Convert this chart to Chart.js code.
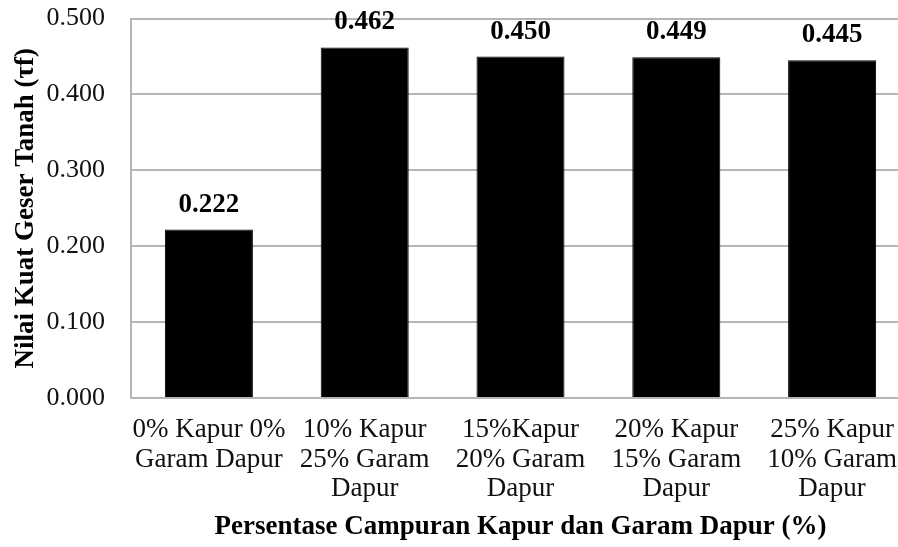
<!DOCTYPE html>
<html>
<head>
<meta charset="utf-8">
<script src="https://cdn.jsdelivr.net/npm/chart.js@4.4.1/dist/chart.umd.min.js"></script>
<style>
  html, body { margin: 0; padding: 0; background: #fff; overflow: hidden; }
  #wrap { width: 915px; height: 547px; }
</style>
</head>
<body>
<div id="wrap"><canvas id="grafik"></canvas></div>
<script>
// data
const kategori = [
  ['0% Kapur 0%', 'Garam Dapur'],
  ['10% Kapur', '25% Garam', 'Dapur'],
  ['15%Kapur', '20% Garam', 'Dapur'],
  ['20% Kapur', '15% Garam', 'Dapur'],
  ['25% Kapur', '10% Garam', 'Dapur']
];
const nilaiKuatGeser = [0.222, 0.462, 0.450, 0.449, 0.445];
const labelSumbuY = ['0.000', '0.100', '0.200', '0.300', '0.400', '0.500'];

const hurufSerif = '"Liberation Serif", "Times New Roman", serif';

// tulis nilai di atas setiap batang
const labelNilai = {
  id: 'labelNilai',
  afterDatasetsDraw(chart) {
    const ctx = chart.ctx;
    const meta = chart.getDatasetMeta(0);
    ctx.save();
    ctx.font = 'bold 27px ' + hurufSerif;
    ctx.fillStyle = '#000';
    ctx.textAlign = 'center';
    ctx.textBaseline = 'alphabetic';
    meta.data.forEach((bar, i) => {
      ctx.fillText(nilaiKuatGeser[i].toFixed(3), bar.x, bar.y - 18);
    });
    ctx.restore();
  }
};

const ctx = document.getElementById('grafik').getContext('2d');
new Chart(ctx, {
  type: 'bar',
  data: {
    labels: kategori,
    datasets: [{
      data: nilaiKuatGeser,
      backgroundColor: '#000',
      borderColor: '#000',
      borderWidth: 1,
      categoryPercentage: 1,
      barPercentage: 0.565
    }]
  },
  options: {
    responsive: true,
    maintainAspectRatio: false,
    animation: false,
    layout: { padding: { top: 0, right: 5, bottom: 0, left: 0 } },
    plugins: {
      legend: { display: false },
      tooltip: { enabled: false }
    },
    scales: {
      x: {
        // tick transparan dipakai sebagai jarak label
        grid: { display: false, drawTicks: true, tickLength: 14, tickColor: 'transparent' },
        border: { display: true, color: '#b5b5b5', width: 2 },
        ticks: {
          color: '#111',
          padding: 3,
          autoSkip: false,
          maxRotation: 0,
          font: { family: hurufSerif, size: 27, lineHeight: 1.1 }
        },
        title: {
          display: true,
          text: 'Persentase Campuran Kapur dan Garam Dapur (%)',
          color: '#000',
          padding: { top: 0, bottom: 5 },
          font: { family: hurufSerif, size: 27, weight: 'bold', lineHeight: 1.1 }
        },
        afterFit(scale) { scale.height = 149; }
      },
      y: {
        min: 0,
        max: 0.5,
        grid: { color: '#b5b5b5', lineWidth: 2, drawTicks: true, tickLength: 23, tickColor: 'transparent' },
        border: { display: true, color: '#b5b5b5', width: 2 },
        ticks: {
          stepSize: 0.1,
          color: '#111',
          padding: 3,
          font: { family: hurufSerif, size: 26 },
          callback: (v, i) => labelSumbuY[i]
        },
        title: {
          display: true,
          text: 'Nilai Kuat Geser Tanah (τf)',
          color: '#000',
          padding: { top: 11, bottom: 0 },
          font: { family: hurufSerif, size: 27, weight: 'bold', lineHeight: 1.1 }
        },
        afterFit(scale) { scale.width = 131; }
      }
    }
  },
  plugins: [labelNilai]
});
</script>
</body>
</html>
